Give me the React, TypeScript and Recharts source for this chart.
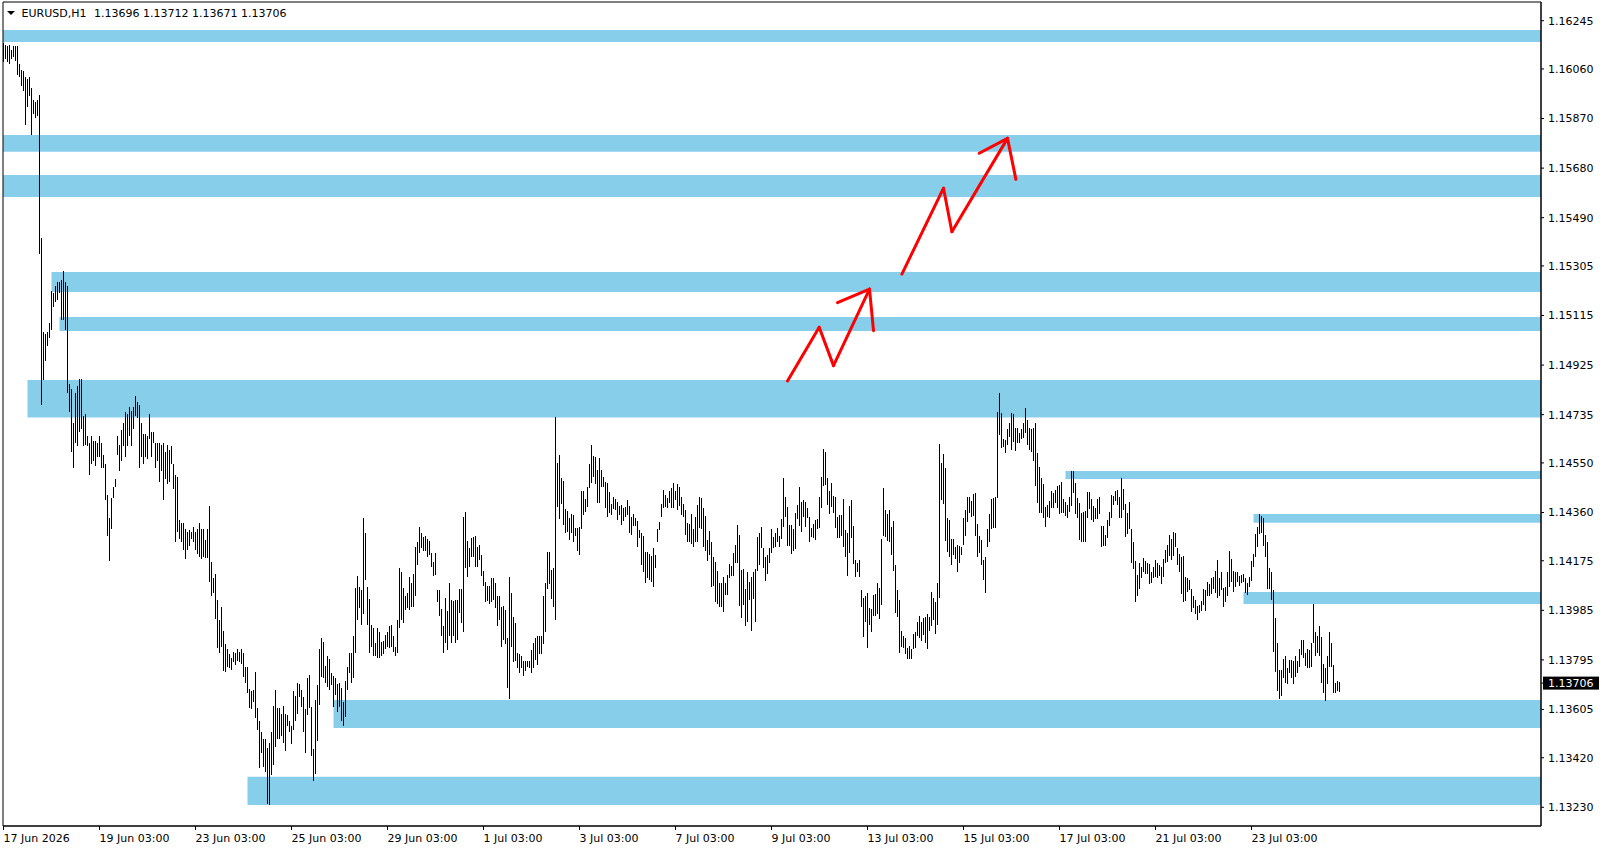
import React from 'react';
import { ComposedChart, Bar, XAxis, YAxis, ReferenceArea, ReferenceLine } from 'recharts';

const FONT = '"DejaVu Sans", Tahoma, sans-serif';

const symbol = 'EURUSD,H1';
const lastOHLC = [1.13696, 1.13712, 1.13671, 1.13706];
const currentPrice = 1.13706;

// one tick every 48 hourly bars
const timeLabels = [
  '17 Jun 2026', '19 Jun 03:00', '23 Jun 03:00', '25 Jun 03:00', '29 Jun 03:00', '1 Jul 03:00', '3 Jul 03:00',
  '7 Jul 03:00', '9 Jul 03:00', '13 Jul 03:00', '15 Jul 03:00', '17 Jul 03:00', '21 Jul 03:00', '23 Jul 03:00',
];
const timeTicks = timeLabels.map((_, k) => k * 48);

const priceTicks = [
  1.16245, 1.1606, 1.1587, 1.1568, 1.1549, 1.15305, 1.15115, 1.14925, 1.14735,
  1.1455, 1.1436, 1.14175, 1.13985, 1.13795, 1.13605, 1.1342, 1.1323,
];

// H1 bars, high / low
const highs = [
  1.1616, 1.16152, 1.16148, 1.16152, 1.16133, 1.16148, 1.16148, 1.16148, 1.16079, 1.16056, // 0
  1.16052, 1.16029, 1.16021, 1.16029, 1.15987, 1.15941, 1.15933, 1.15941, 1.1596, 1.15412,
  1.15052, 1.15045, 1.15052, 1.15087, 1.15209, 1.15202, 1.15228, 1.15243, 1.15243, 1.15251,
  1.15286, 1.15243, 1.15228, 1.14853, 1.14834, 1.14704, 1.14819, 1.14845, 1.14872, 1.14872,
  1.14731, 1.14739, 1.14654, 1.14628, 1.14654, 1.14635, 1.14635, 1.14628, 1.14654, 1.14628,
  1.14581, 1.14547, 1.14428, 1.1434, 1.14417, 1.14459, 1.1449, 1.14654, 1.1462, 1.14677, // 50
  1.14704, 1.14746, 1.14739, 1.14765, 1.1475, 1.14765, 1.14807, 1.14784, 1.14773, 1.14704,
  1.14662, 1.14662, 1.14654, 1.14739, 1.14669, 1.14669, 1.14628, 1.14628, 1.14628, 1.1462,
  1.14628, 1.14592, 1.1462, 1.146, 1.14616, 1.14547, 1.14505, 1.14497, 1.14332, 1.14321,
  1.14321, 1.14298, 1.14286, 1.14294, 1.14286, 1.14305, 1.14286, 1.14298, 1.14321, 1.14298,
  1.14298, 1.14256, 1.14298, 1.14386, 1.14172, 1.1411, 1.14126, 1.14026, 1.13946, 1.13999, // 100
  1.13907, 1.13854, 1.13835, 1.13816, 1.13804, 1.13827, 1.1382, 1.13835, 1.13827, 1.13835,
  1.1382, 1.13769, 1.13769, 1.13685, 1.13674, 1.13681, 1.1375, 1.13612, 1.13559, 1.1352,
  1.1349, 1.1349, 1.13459, 1.13478, 1.1352, 1.1362, 1.13678, 1.13612, 1.13612, 1.13586,
  1.1362, 1.13586, 1.13582, 1.13562, 1.13543, 1.13674, 1.13655, 1.13708, 1.13704, 1.13678,
  1.13651, 1.13605, 1.13724, 1.13739, 1.13616, 1.13455, 1.13643, 1.13697, 1.13835, 1.13877, // 150
  1.13865, 1.13773, 1.13808, 1.138, 1.13743, 1.13735, 1.13727, 1.13701, 1.13708, 1.13689,
  1.13632, 1.13716, 1.13769, 1.1382, 1.13823, 1.13885, 1.14072, 1.14118, 1.14076, 1.14061,
  1.1434, 1.14283, 1.14076, 1.1403, 1.1393, 1.13919, 1.13861, 1.13919, 1.139, 1.13865,
  1.13869, 1.13892, 1.13903, 1.13923, 1.1393, 1.13885, 1.13846, 1.13949, 1.14149, 1.1413,
  1.14072, 1.14038, 1.14053, 1.14114, 1.14088, 1.14126, 1.14229, 1.14248, 1.14305, 1.14283, // 200
  1.14267, 1.14271, 1.1426, 1.14252, 1.14206, 1.14172, 1.14206, 1.14061, 1.14061, 1.13991,
  1.13926, 1.14034, 1.13984, 1.14091, 1.14026, 1.14022, 1.14026, 1.14026, 1.14068, 1.14068,
  1.14344, 1.14363, 1.14252, 1.14225, 1.14263, 1.14267, 1.14271, 1.14229, 1.14237, 1.14198,
  1.14137, 1.14095, 1.1408, 1.1408, 1.14107, 1.14107, 1.14091, 1.14041, 1.14038, 1.13999,
  1.14003, 1.13988, 1.13877, 1.14114, 1.14053, 1.13961, 1.13938, 1.13823, 1.13816, 1.13808, // 250
  1.13789, 1.13792, 1.13789, 1.13792, 1.13831, 1.13861, 1.13877, 1.13885, 1.13885, 1.13888,
  1.14041, 1.14091, 1.1421, 1.1421, 1.14141, 1.14149, 1.14727, 1.14551, 1.14581, 1.14493,
  1.14482, 1.14375, 1.14367, 1.1434, 1.14355, 1.14352, 1.14302, 1.14302, 1.14305, 1.14444,
  1.14444, 1.14413, 1.14459, 1.14547, 1.1462, 1.14577, 1.14573, 1.14524, 1.1457, 1.14524,
  1.14497, 1.14478, 1.14474, 1.1444, 1.14394, 1.14421, 1.14413, 1.14401, 1.14386, 1.1439, // 300
  1.14378, 1.14382, 1.14409, 1.14386, 1.14344, 1.14355, 1.1434, 1.14328, 1.14294, 1.14283,
  1.14271, 1.1421, 1.1421, 1.14202, 1.14195, 1.14225, 1.14198, 1.14298, 1.14325, 1.14394,
  1.14447, 1.14428, 1.14417, 1.14444, 1.14455, 1.14474, 1.14444, 1.14471, 1.14459, 1.14421,
  1.14394, 1.14371, 1.14321, 1.14317, 1.14355, 1.14298, 1.14344, 1.1439, 1.14421, 1.14417,
  1.14378, 1.14348, 1.14256, 1.1429, 1.14245, 1.14191, 1.14172, 1.14137, 1.14091, 1.14088, // 350
  1.14114, 1.14088, 1.14122, 1.14164, 1.14156, 1.14206, 1.14237, 1.14313, 1.14275, 1.14141,
  1.14145, 1.14068, 1.14133, 1.14095, 1.14114, 1.1413, 1.14145, 1.14267, 1.14283, 1.14305,
  1.14225, 1.14191, 1.14198, 1.14225, 1.14298, 1.14267, 1.14283, 1.14302, 1.14271, 1.14336,
  1.14493, 1.14421, 1.14382, 1.14313, 1.14313, 1.14298, 1.14359, 1.1439, 1.14459, 1.14401,
  1.14409, 1.14401, 1.14378, 1.14344, 1.14302, 1.14317, 1.14332, 1.14336, 1.14421, 1.14497, // 400
  1.14604, 1.14592, 1.14493, 1.14444, 1.14474, 1.14424, 1.14421, 1.14344, 1.14352, 1.14352,
  1.14413, 1.14294, 1.14283, 1.14386, 1.14409, 1.14309, 1.14179, 1.14168, 1.14179, 1.14064,
  1.14034, 1.14041, 1.14053, 1.13995, 1.13991, 1.14045, 1.14049, 1.14088, 1.14072, 1.1426,
  1.14455, 1.14371, 1.14355, 1.14371, 1.14305, 1.14328, 1.1416, 1.14064, 1.14026, 1.13907,
  1.13888, 1.13877, 1.13842, 1.1385, 1.13838, 1.13896, 1.13903, 1.13942, 1.13965, 1.13942, // 450
  1.13957, 1.13961, 1.13972, 1.13961, 1.14057, 1.14034, 1.14015, 1.14091, 1.14624, 1.14551,
  1.14585, 1.14531, 1.1434, 1.14332, 1.1426, 1.1426, 1.14229, 1.14237, 1.14233, 1.14229,
  1.1434, 1.14371, 1.14421, 1.14421, 1.14405, 1.14432, 1.14436, 1.14317, 1.14271, 1.14256,
  1.14179, 1.14191, 1.14298, 1.14355, 1.14413, 1.14417, 1.14421, 1.14746, 1.14819, 1.14742,
  1.14643, 1.14639, 1.14681, 1.14704, 1.14742, 1.14739, 1.14685, 1.14685, 1.14665, 1.14681, // 500
  1.14704, 1.14761, 1.14715, 1.14685, 1.14681, 1.14685, 1.14704, 1.14589, 1.14535, 1.14493,
  1.14471, 1.14382, 1.1439, 1.14405, 1.14444, 1.14436, 1.14447, 1.14463, 1.14467, 1.14478,
  1.14413, 1.14401, 1.1439, 1.14421, 1.1452, 1.1452, 1.14474, 1.14417, 1.14398, 1.14359,
  1.14363, 1.14367, 1.1444, 1.1444, 1.14413, 1.14386, 1.14378, 1.14413, 1.14421, 1.14309,
  1.14309, 1.14275, 1.14332, 1.14363, 1.14428, 1.14424, 1.14444, 1.14447, 1.14421, 1.14493, // 550
  1.14451, 1.14394, 1.14359, 1.14401, 1.14298, 1.14245, 1.14175, 1.14122, 1.14168, 1.14152,
  1.14187, 1.14175, 1.14168, 1.14164, 1.1413, 1.14152, 1.14179, 1.14168, 1.1416, 1.14152,
  1.14183, 1.14218, 1.14237, 1.14275, 1.1426, 1.14286, 1.14283, 1.14225, 1.14202, 1.14191,
  1.14195, 1.14114, 1.14107, 1.14103, 1.14068, 1.14038, 1.14026, 1.14003, 1.14007, 1.14022,
  1.14068, 1.14064, 1.14095, 1.14084, 1.1411, 1.14114, 1.14137, 1.14179, 1.1411, 1.1413, // 600
  1.14072, 1.14076, 1.1413, 1.14214, 1.14183, 1.14137, 1.14133, 1.14133, 1.14118, 1.14122,
  1.14126, 1.14107, 1.14091, 1.14114, 1.14175, 1.14202, 1.14279, 1.14305, 1.14355, 1.14348,
  1.1434, 1.14275, 1.14248, 1.14149, 1.1413, 1.14064, 1.13957, 1.13861, 1.13758, 1.13758,
  1.138, 1.13808, 1.13762, 1.13796, 1.13796, 1.13789, 1.13808, 1.13792, 1.13838, 1.13873,
  1.13873, 1.13823, 1.13838, 1.13831, 1.13861, 1.14011, 1.139, 1.13888, 1.13926, 1.13881, // 650
  1.13781, 1.13765, 1.13808, 1.13903, 1.13861, 1.13777, 1.13708, 1.13716, 1.13712,
];

const lows = [
  1.16086, 1.16099, 1.16086, 1.16079, 1.16099, 1.16106, 1.1609, 1.16037, 1.16029, 1.15995, // 0
  1.15975, 1.15845, 1.15914, 1.15956, 1.15807, 1.15888, 1.15872, 1.1588, 1.15351, 1.14773,
  1.14868, 1.14941, 1.14999, 1.15029, 1.1506, 1.15148, 1.15167, 1.15175, 1.15202, 1.15098,
  1.15098, 1.1506, 1.14819, 1.14746, 1.14592, 1.14531, 1.14628, 1.14616, 1.14669, 1.14681,
  1.14616, 1.1462, 1.14616, 1.14505, 1.14547, 1.14558, 1.14539, 1.14573, 1.14573, 1.14531,
  1.14531, 1.14409, 1.14271, 1.14175, 1.14298, 1.14417, 1.14459, 1.14581, 1.1452, 1.14558, // 50
  1.14616, 1.14573, 1.14616, 1.14654, 1.14616, 1.14681, 1.14731, 1.14723, 1.14531, 1.14573,
  1.14547, 1.14573, 1.14566, 1.14643, 1.14573, 1.14628, 1.14531, 1.14558, 1.14478, 1.1452,
  1.14409, 1.1449, 1.14471, 1.14478, 1.14547, 1.14451, 1.14245, 1.14286, 1.1426, 1.14245,
  1.14218, 1.14183, 1.14218, 1.14233, 1.1426, 1.14245, 1.14218, 1.14202, 1.14191, 1.14183,
  1.14191, 1.14187, 1.14187, 1.14095, 1.14041, 1.14053, 1.13953, 1.13842, 1.13823, 1.13846, // 100
  1.13754, 1.1375, 1.13769, 1.13765, 1.13758, 1.13785, 1.13777, 1.13789, 1.13785, 1.13781,
  1.13731, 1.13708, 1.1367, 1.13612, 1.13605, 1.13632, 1.13574, 1.13528, 1.13379, 1.1344,
  1.13383, 1.13364, 1.13241, 1.13237, 1.13352, 1.13394, 1.13463, 1.1349, 1.1349, 1.13505,
  1.13478, 1.13444, 1.13543, 1.1352, 1.13471, 1.13528, 1.13559, 1.13586, 1.13651, 1.13616,
  1.13517, 1.1344, 1.13582, 1.13612, 1.13425, 1.13329, 1.13356, 1.13486, 1.13624, 1.13731, // 150
  1.13727, 1.13708, 1.13693, 1.13678, 1.13697, 1.13616, 1.13662, 1.13597, 1.13616, 1.13559,
  1.1354, 1.13578, 1.13678, 1.13746, 1.13708, 1.13727, 1.13823, 1.13949, 1.13995, 1.1393,
  1.13969, 1.14103, 1.1393, 1.13823, 1.13846, 1.13808, 1.13808, 1.13804, 1.13804, 1.13808,
  1.13816, 1.13835, 1.13846, 1.13842, 1.13846, 1.13827, 1.13808, 1.13823, 1.13919, 1.13946,
  1.13938, 1.13988, 1.13995, 1.13988, 1.13999, 1.13999, 1.14041, 1.1416, 1.14206, 1.14225, // 200
  1.14214, 1.14214, 1.14191, 1.14198, 1.14152, 1.14118, 1.14122, 1.14015, 1.13965, 1.13885,
  1.1382, 1.13861, 1.13831, 1.13885, 1.13861, 1.13885, 1.13861, 1.13873, 1.13976, 1.13938,
  1.13903, 1.14149, 1.14114, 1.14152, 1.14191, 1.14191, 1.14152, 1.14152, 1.14179, 1.14118,
  1.1408, 1.14018, 1.14022, 1.14011, 1.14018, 1.14026, 1.13995, 1.13923, 1.13949, 1.13846,
  1.13873, 1.13854, 1.13689, 1.13647, 1.13846, 1.13785, 1.13792, 1.13762, 1.13746, 1.13762, // 250
  1.13735, 1.13754, 1.13769, 1.13765, 1.13746, 1.13762, 1.13796, 1.13777, 1.13816, 1.13816,
  1.13854, 1.139, 1.14068, 1.14084, 1.1403, 1.13999, 1.13949, 1.14382, 1.14336, 1.14394,
  1.14313, 1.14283, 1.14286, 1.14256, 1.14283, 1.14245, 1.14271, 1.14214, 1.14198, 1.14298,
  1.14352, 1.14363, 1.14382, 1.14455, 1.14474, 1.14497, 1.14471, 1.14398, 1.14398, 1.14459,
  1.14459, 1.14378, 1.14344, 1.14359, 1.14352, 1.14375, 1.14371, 1.14332, 1.14352, 1.14313, // 300
  1.14328, 1.14344, 1.14352, 1.14283, 1.14275, 1.14309, 1.14309, 1.14229, 1.14263, 1.1416,
  1.1413, 1.14091, 1.1411, 1.14103, 1.14095, 1.14076, 1.14149, 1.14245, 1.14294, 1.14344,
  1.14378, 1.14382, 1.14378, 1.14398, 1.14378, 1.14378, 1.14409, 1.14371, 1.14386, 1.14352,
  1.14344, 1.14275, 1.14245, 1.14245, 1.14241, 1.14229, 1.14245, 1.14248, 1.14302, 1.14298,
  1.14229, 1.14214, 1.14175, 1.14198, 1.14076, 1.1408, 1.14015, 1.14011, 1.13999, 1.13999, // 350
  1.1398, 1.14045, 1.14045, 1.1411, 1.14118, 1.14118, 1.14168, 1.14168, 1.14003, 1.13957,
  1.14007, 1.13923, 1.13942, 1.14026, 1.13907, 1.1403, 1.13942, 1.14137, 1.1416, 1.14225,
  1.14149, 1.14099, 1.14126, 1.14168, 1.14206, 1.14225, 1.14229, 1.14245, 1.14229, 1.1426,
  1.14305, 1.14344, 1.14233, 1.14233, 1.14202, 1.14214, 1.14221, 1.14336, 1.14309, 1.14286,
  1.14344, 1.14305, 1.1434, 1.14248, 1.14267, 1.14263, 1.14256, 1.14298, 1.14302, 1.14378, // 400
  1.14463, 1.14467, 1.1439, 1.14355, 1.14382, 1.14359, 1.14302, 1.14263, 1.14263, 1.14271,
  1.14229, 1.14191, 1.14118, 1.14206, 1.14263, 1.14164, 1.14114, 1.14133, 1.14114, 1.13999,
  1.13881, 1.13942, 1.13842, 1.1393, 1.139, 1.13965, 1.13965, 1.13969, 1.13953, 1.14007,
  1.14271, 1.14267, 1.14252, 1.14248, 1.14198, 1.14137, 1.13976, 1.13961, 1.13823, 1.13846,
  1.13842, 1.13816, 1.138, 1.138, 1.138, 1.13838, 1.13842, 1.13885, 1.13877, 1.13869, // 450
  1.13892, 1.13858, 1.13838, 1.13907, 1.13926, 1.13946, 1.13896, 1.1393, 1.14034, 1.14409,
  1.14394, 1.14252, 1.1421, 1.14191, 1.1416, 1.14198, 1.14183, 1.14133, 1.14168, 1.14198,
  1.14237, 1.14271, 1.14325, 1.14359, 1.14344, 1.14348, 1.14271, 1.14191, 1.14206, 1.1416,
  1.14103, 1.14053, 1.14229, 1.14245, 1.14298, 1.14302, 1.14302, 1.14417, 1.14658, 1.14608,
  1.14612, 1.14589, 1.1462, 1.1465, 1.146, 1.14631, 1.14596, 1.14628, 1.14628, 1.14643, // 500
  1.14646, 1.14665, 1.1462, 1.146, 1.14592, 1.14558, 1.14463, 1.14398, 1.14359, 1.14359,
  1.1434, 1.14305, 1.14344, 1.1434, 1.14378, 1.14378, 1.14398, 1.14378, 1.14355, 1.14359,
  1.14359, 1.14348, 1.1434, 1.14363, 1.14386, 1.14436, 1.14355, 1.1434, 1.14256, 1.14245,
  1.14245, 1.14245, 1.1434, 1.14375, 1.14332, 1.14325, 1.14336, 1.14336, 1.14355, 1.14229,
  1.14233, 1.14233, 1.14263, 1.14309, 1.1434, 1.1439, 1.14405, 1.1439, 1.1434, 1.1434, // 550
  1.14371, 1.14267, 1.14279, 1.14298, 1.14168, 1.14145, 1.14018, 1.14041, 1.14068, 1.1411,
  1.1413, 1.14126, 1.14126, 1.14084, 1.14091, 1.1411, 1.14114, 1.1411, 1.14118, 1.14084,
  1.14114, 1.14168, 1.14172, 1.14195, 1.14179, 1.14195, 1.14229, 1.1416, 1.1413, 1.14049,
  1.14018, 1.14022, 1.14057, 1.14061, 1.1398, 1.13995, 1.13969, 1.13949, 1.13976, 1.13984,
  1.14007, 1.13984, 1.14038, 1.14038, 1.14049, 1.14068, 1.14053, 1.14034, 1.14038, 1.14064, // 600
  1.13999, 1.14018, 1.14038, 1.14076, 1.14095, 1.14057, 1.14076, 1.14095, 1.1408, 1.14088,
  1.14095, 1.14053, 1.14045, 1.14076, 1.14099, 1.14152, 1.14191, 1.14229, 1.14279, 1.14283,
  1.14233, 1.14191, 1.14068, 1.14068, 1.14026, 1.13827, 1.1375, 1.13674, 1.13647, 1.13655,
  1.13724, 1.13708, 1.13704, 1.13743, 1.13724, 1.13704, 1.13731, 1.13746, 1.13769, 1.13812,
  1.13804, 1.13773, 1.13765, 1.13765, 1.13769, 1.13861, 1.13808, 1.1382, 1.13808, 1.13708, // 650
  1.1367, 1.13639, 1.13704, 1.13769, 1.13769, 1.1367, 1.1367, 1.13674, 1.13671,
];

// supply / demand rectangles: first bar (null = from the left edge), top, bottom
const zoneFrom: (number | null)[] = [null, null, null, 24, 28, 12, 531, 625, 620, 165, 122];
const zoneHigh = [1.16209, 1.15807, 1.15654, 1.15282, 1.15109, 1.14868, 1.14519, 1.14354, 1.14055, 1.13641, 1.13347];
const zoneLow = [1.16163, 1.15743, 1.15569, 1.15205, 1.15056, 1.14724, 1.14488, 1.14321, 1.14009, 1.13534, 1.13239];

// hand drawn arrows, [bar, price]
const arrowPaths: [number, number][][] = [
  [[392, 1.14864], [407.85, 1.1507], [415, 1.14923], [433, 1.15216]],
  [[417, 1.15164], [433, 1.15216], [435, 1.15057]],
  [[449.2, 1.15274], [470, 1.15603], [474.2, 1.15436], [502, 1.15794]],
  [[487.85, 1.15737], [502, 1.15794], [506.2, 1.15637]],
];

const X_MIN = -0.25;
const X_MAX = 768.75;
const Y_MIN = 1.131583;
const Y_MAX = 1.163167;

const bars = highs.map((h, i) => ({ i, range: [lows[i], h] }));

const HLBar = (props: any) => {
  const { x, y, width, height } = props;
  const top = Math.min(y, y + height);
  const h = Math.max(Math.abs(height), 1);
  return <rect x={x + width / 2 - 0.5} y={top} width={1} height={h} fill="#000" shapeRendering="crispEdges" />;
};

const TimeTick = (props: any) => {
  const { x, y, payload } = props;
  return (
    <text x={x} y={y} dy="0.71em" textAnchor="start" fill="#000" fontFamily={FONT} fontSize={11}>
      {timeLabels[Math.round(payload.value / 48)]}
    </text>
  );
};

const PriceTick = (props: any) => {
  const { x, y, payload } = props;
  const label = Number(payload.value).toFixed(5);
  if (payload.value === currentPrice) {
    return (
      <g>
        <rect x={x - 5} y={y - 6.5} width={56} height={13} fill="#000" />
        <text x={x} y={y} dy="0.355em" fill="#fff" fontFamily={FONT} fontSize={11}>{label}</text>
      </g>
    );
  }
  return (
    <text x={x} y={y} dy="0.355em" fill="#000" fontFamily={FONT} fontSize={11}>{label}</text>
  );
};

export default function App() {
  return (
    <div style={{ position: 'absolute', left: 0, top: 0, width: 1605, height: 850, background: '#fff' }}>
      <ComposedChart width={1605} height={850} data={bars} margin={{ top: 2, right: 0, bottom: 0, left: 3 }}>
        <XAxis
          dataKey="i"
          type="number"
          domain={[X_MIN, X_MAX]}
          allowDataOverflow
          ticks={timeTicks}
          interval={0}
          height={24}
          tickSize={4}
          tickMargin={4}
          tick={<TimeTick />}
          axisLine={{ stroke: '#000' }}
          tickLine={{ stroke: '#000' }}
        />
        <YAxis
          orientation="right"
          type="number"
          domain={[Y_MIN, Y_MAX]}
          allowDataOverflow
          ticks={[...priceTicks, currentPrice]}
          interval={0}
          width={64}
          tickSize={3}
          tickMargin={4}
          tick={<PriceTick />}
          axisLine={{ stroke: '#000' }}
          tickLine={{ stroke: '#000' }}
        />
        {zoneHigh.map((hi, k) => (
          <ReferenceArea
            key={`zone-${k}`}
            x1={zoneFrom[k] ?? X_MIN}
            x2={X_MAX}
            y1={zoneLow[k]}
            y2={hi}
            fill="#87CEEB"
            fillOpacity={1}
            stroke="none"
          />
        ))}
        <ReferenceArea x1={X_MIN} x2={X_MAX} y1={Y_MIN} y2={Y_MAX} fill="none" stroke="#000" />
        <Bar dataKey="range" barSize={1} shape={<HLBar />} isAnimationActive={false} />
        {arrowPaths.flatMap((pts, a) =>
          pts.slice(1).map((p, k) => (
            <ReferenceLine
              key={`arrow-${a}-${k}`}
              segment={[{ x: pts[k][0], y: pts[k][1] }, { x: p[0], y: p[1] }]}
              stroke="#FF0000"
              strokeWidth={3}
              strokeLinecap="round"
            />
          ))
        )}
      </ComposedChart>
      <svg width={420} height={22} style={{ position: 'absolute', left: 0, top: 0, pointerEvents: 'none' }}>
        <polygon points="7,11 15,11 11,15" fill="#000" />
        <text y={17} fill="#000" fontFamily={FONT} fontSize={11}>
          <tspan x={21.5}>{symbol}</tspan>
          <tspan x={94}>{lastOHLC.map((v) => v.toFixed(5)).join(' ')}</tspan>
        </text>
      </svg>
    </div>
  );
}
